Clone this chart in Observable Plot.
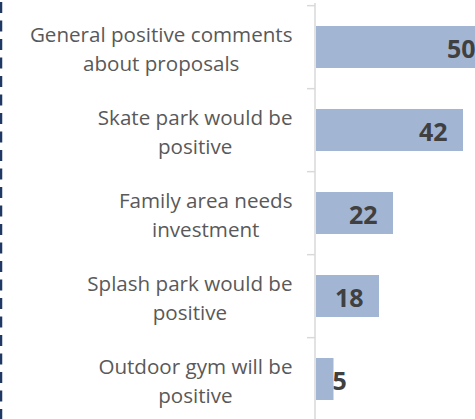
<!DOCTYPE html>
<html><head><meta charset="utf-8">
<script src="https://cdn.jsdelivr.net/npm/d3@7"></script>
<script src="https://cdn.jsdelivr.net/npm/@observablehq/plot@0.6"></script>
<style>html,body{margin:0;padding:0;overflow:hidden;background:#fff}</style>
</head><body><div id="chart"></div>
<script>
const categories = [
  "General positive comments\nabout proposals",
  "Skate park would be\npositive",
  "Family area needs\ninvestment",
  "Splash park would be\npositive",
  "Outdoor gym will be\npositive"
];
const values = [50, 42, 22, 18, 5];

const data = categories.map((c, i) => ({cat: c, value: values[i]}));

const W = 475, H = 419;
const xRange = [316, 491], xDomain = [0, 50];
const yRange = [3, 421.5];
const pxPerUnit = (xRange[1] - xRange[0]) / (xDomain[1] - xDomain[0]);
const step = (yRange[1] - yRange[0]) / categories.length;
const marginLeft = 307, axisX = 315;

const labelFamily = "Open Sans", labelSize = 20.6, lineGap = 28.5;
const valueFamily = "Open Sans", valueSize = 25;
const ctx = document.createElement("canvas").getContext("2d");
function measure(text, font) { ctx.font = font; return ctx.measureText(text).width; }
const blockRight = 292;
const pad = 16;

const fits = d => d.value * pxPerUnit >= measure(String(d.value), `bold ${valueSize}px "${valueFamily}"`) + 2 * pad;

const labelMarks = categories.map(c => {
  const w = d3.max(c.split("\n"), l => measure(l, `${labelSize}px "${labelFamily}"`));
  return Plot.text([c], {
    y: d => d, text: d => d, frameAnchor: "left",
    textAnchor: "middle", lineAnchor: "middle", lineHeight: lineGap / labelSize,
    dx: blockRight - w / 2 - marginLeft, dy: 0,
    fill: "#595959", fontSize: labelSize, fontFamily: labelFamily
  });
});

const dashed = () => d3.create("svg:line")
  .attr("x1", 1).attr("x2", 1).attr("y1", 2).attr("y2", H)
  .attr("stroke", "#1f3864").attr("stroke-width", 2.5)
  .attr("stroke-dasharray", "11 7.5").node();

const chart = Plot.plot({
  width: W, height: H,
  marginTop: 3, marginBottom: 0, marginLeft, marginRight: W - axisX,
  x: {domain: xDomain, range: xRange, axis: null},
  y: {domain: categories, range: yRange, paddingInner: 0.5, paddingOuter: 0.25, axis: null},
  style: {fontFamily: labelFamily, background: "white", overflow: "hidden"},
  marks: [
    Plot.barX(data, {x: "value", y: "cat", fill: "#a2b6d4"}),
    Plot.ruleX([0], {dx: -1.5, stroke: "#d9d9d9", strokeWidth: 1.5}),
    Plot.ruleY(categories, {y: d => d, dy: -step / 2, stroke: "#d9d9d9", strokeWidth: 1.5}),
    ...labelMarks,
    Plot.text(data.filter(fits), {
      x: "value", y: "cat", text: d => String(d.value), textAnchor: "end",
      dx: -pad, dy: 2, fill: "#404040", fontWeight: "bold", fontSize: valueSize, fontFamily: valueFamily
    }),
    Plot.text(data.filter(d => !fits(d)), {
      x: 0, y: "cat", text: d => String(d.value), textAnchor: "start",
      dx: pad, dy: 2, fill: "#404040", fontWeight: "bold", fontSize: valueSize, fontFamily: valueFamily
    }),
    dashed
  ]
});
document.getElementById("chart").append(chart);
</script>
</body></html>
